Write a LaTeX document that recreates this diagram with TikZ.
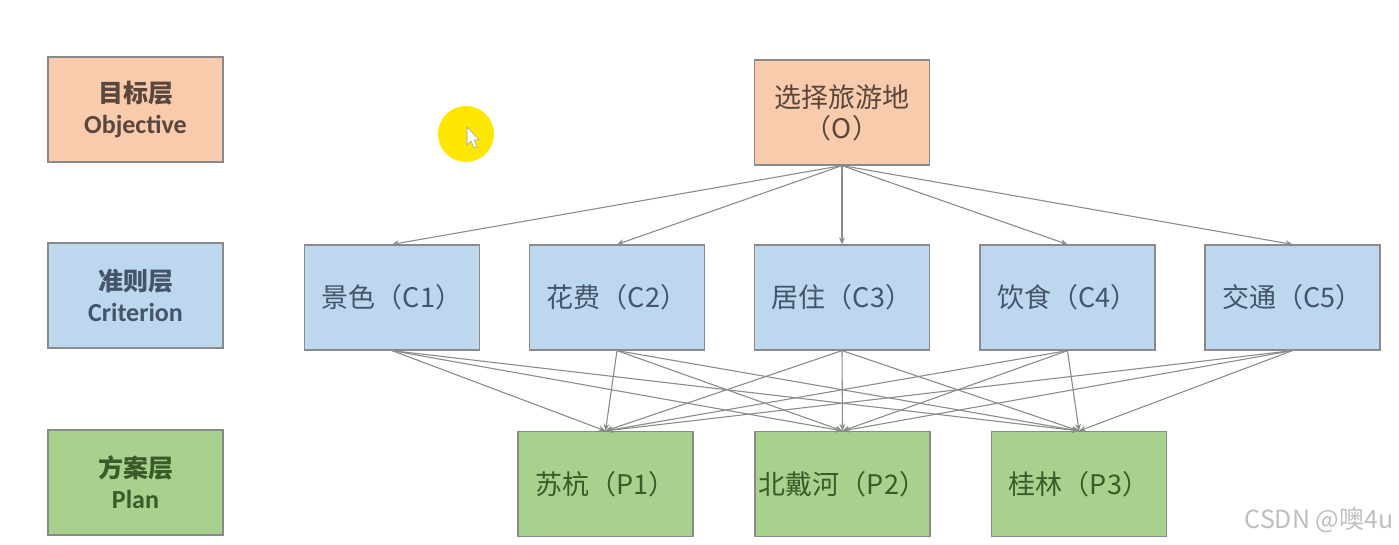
\documentclass[tikz,border=0pt]{standalone}
\usepackage{fontspec}
\setmainfont{Carlito}
\newfontfamily\cjk{Noto Sans CJK SC}
\usetikzlibrary{arrows.meta}
\definecolor{ofill}{HTML}{F8CBAD}
\definecolor{bfill}{HTML}{BDD7EE}
\definecolor{gfill}{HTML}{A9D18E}
\definecolor{bord}{HTML}{8A8A8A}
\definecolor{otext}{HTML}{5A463C}
\definecolor{btext}{HTML}{44546A}
\definecolor{gtext}{HTML}{3B5A2A}
\definecolor{edge}{HTML}{8C8C8C}
\begin{document}
\begin{tikzpicture}[x=1pt,y=-1pt,
  box/.style={draw=bord,line width=1.2pt,minimum width=175pt,minimum height=105pt,inner sep=0pt,align=center},
  obox/.style={box,fill=ofill,text=otext},
  bbox/.style={box,fill=bfill,text=btext},
  gbox/.style={box,fill=gfill,text=gtext},
  lvl/.style={font=\fontsize{26}{31}\selectfont\bfseries},
  lbl/.style={font=\cjk\fontsize{27}{31}\selectfont},
  arr/.style={draw=edge,line width=1.1pt,-{Stealth[length=7pt,width=6pt]}}]
\useasboundingbox (0,0) rectangle (1399,544);
\fill[white] (0,0) rectangle (1399,544);
% level labels
\node[obox,lvl] (LO) at (135.5,109.5) {{\cjk\bfseries\fontsize{25}{31}\selectfont 目标层}\\Objective};
\node[bbox,lvl] (LC) at (135.5,295.5) {{\cjk\bfseries\fontsize{25}{31}\selectfont 准则层}\\Criterion};
\node[gbox,lvl] (LP) at (135.5,482.5) {{\cjk\bfseries\fontsize{25}{31}\selectfont 方案层}\\Plan};
% cursor highlight
\fill[yellow!90!orange] (466,134) circle (28);
\draw[gray!70,fill=white,line width=0.6pt] (467,127) -- (467,145) -- (471,141) -- (474,148) -- (477,147) -- (474,140) -- (479,140) -- cycle;
% objective
\node[obox,lbl] (O) at (842,112.5) {选择旅游地\\（O）};
% criteria
\node[bbox,lbl] (C1) at (392,297.5) {景色（C1）};
\node[bbox,lbl] (C2) at (617,297.5) {花费（C2）};
\node[bbox,lbl] (C3) at (842,297.5) {居住（C3）};
\node[bbox,lbl] (C4) at (1067.5,297.5) {饮食（C4）};
\node[bbox,lbl] (C5) at (1292.5,297.5) {交通（C5）};
% plans
\node[gbox,lbl] (P1) at (605.5,484) {苏杭（P1）};
\node[gbox,lbl] (P2) at (842.5,484) {北戴河（P2）};
\node[gbox,lbl] (P3) at (1079,484) {桂林（P3）};
% edges O -> C
\foreach \c in {C1,C2,C3,C4,C5}
  \draw[arr] (O.south) -- (\c.north);
% edges C -> P
\foreach \c in {C1,C2,C3,C4,C5}
  \foreach \p in {P1,P2,P3}
    \draw[arr] (\c.south) -- (\p.north);
% watermark
\node[font=\cjk\fontsize{25}{28}\selectfont,text=gray!50,anchor=east] (wm) at (1397,520) {CSDN @噢4u};
\end{tikzpicture}
\end{document}
